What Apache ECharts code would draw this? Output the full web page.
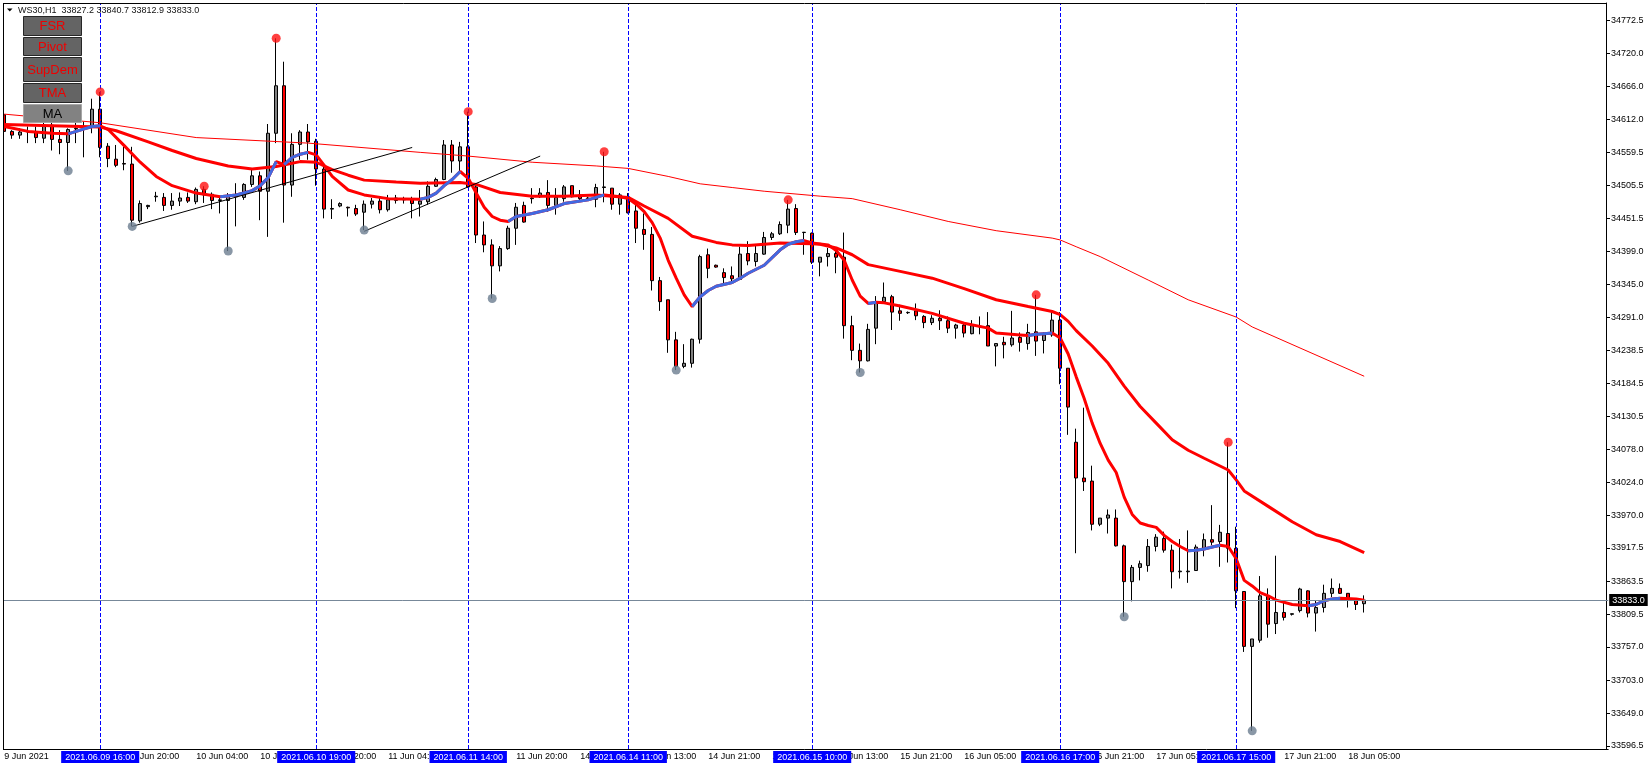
<!DOCTYPE html>
<html><head><meta charset="utf-8">
<script src="https://cdn.jsdelivr.net/npm/echarts@6/dist/echarts.min.js"></script>
<style>html,body{margin:0;padding:0;background:#fff}#c{width:1652px;height:770px}</style>
</head><body><div id="c"></div>
<script>
const titleText = 'WS30,H1  33827.2 33840.7 33812.9 33833.0';
const buttons = ['FSR','Pivot','SupDem','TMA','MA'];
const tickLabels = ['9 Jun 2021','9 Jun 12:00','9 Jun 20:00','10 Jun 04:00','10 Jun 12:00','10 Jun 20:00','11 Jun 04:00','11 Jun 12:00','11 Jun 20:00','14 Jun 05:00','14 Jun 13:00','14 Jun 21:00','15 Jun 05:00','15 Jun 13:00','15 Jun 21:00','16 Jun 05:00','16 Jun 13:00','16 Jun 21:00','17 Jun 05:00','17 Jun 13:00','17 Jun 21:00','18 Jun 05:00'];
const barsPerTick = 8;
const yTickValues = [34772.5,34720.0,34666.0,34612.0,34559.5,34505.5,34451.5,34399.0,34345.0,34291.0,34238.5,34184.5,34130.5,34078.0,34024.0,33970.0,33917.5,33863.5,33809.5,33757.0,33703.0,33649.0,33596.5];

const opens = [
34620,34593,34587,34592,34592,34582,34603,34580,34575,34597,
34598,34601,34629,34569,34548,34541,34540,34448,34471,34487,
34486,34473,34480,34486,34479,34499,34491,34481,34481,34487,
34486,34507,34521,34496,34590,34667,34506,34572,34592,34577,
34532,34467,34472,34470,34468,34462,34475,34480,34466,34481,
34482,34483,34475,34479,34504,34515,34571,34545,34568,34503,
34425,34409,34375,34403,34436,34473,34484,34487,34494,34473,
34484,34505,34490,34484,34483,34502,34501,34475,34487,34464,
34434,34426,34351,34320,34255,34212,34217,34256,34393,34376,
34364,34359,34353,34395,34382,34394,34421,34427,34441,34468,
34429,34428,34381,34390,34395,34389,34278,34238,34221,34274,
34317,34325,34302,34299,34302,34293,34283,34290,34286,34274,
34279,34265,34276,34278,34245,34251,34247,34259,34249,34268,
34254,34263,34287,34209,34089,34031,34026,33956,33966,33966,
33921,33863,33886,33889,33920,33933,33914,33879,33879,33881,
33916,33931,33928,33941,33917,33847,33758,33768,33840,33795,
33813,33810,33816,33848,33812,33821,33844,33852,33844,33834,
33827.2];
const closes = [
34593,34587,34592,34593,34583,34603,34580,34575,34596,34598,
34600,34629,34567,34549,34538,34540,34449,34476,34473,34488,
34473,34480,34485,34480,34499,34490,34481,34482,34489,34489,
34507,34521,34496,34590,34667,34506,34572,34592,34576,34532,
34467,34468,34476,34469,34459,34475,34480,34466,34482,34485,
34484,34476,34480,34504,34515,34571,34545,34568,34503,34425,
34409,34375,34403,34436,34470,34446,34485,34493,34473,34486,
34503,34487,34484,34485,34502,34503,34475,34490,34461,34436,
34426,34351,34317,34255,34212,34217,34256,34390,34371,34373,
34356,34354,34394,34383,34395,34421,34427,34442,34467,34429,
34429.5,34381,34389,34395,34389,34278,34238,34221,34272,34317,
34324,34300,34298,34299.5,34294,34283,34290,34286,34274,34279,
34266,34278,34277,34245,34249,34247,34258,34251,34267,34253,
34263,34287,34209,34146,34031,34025,33956,33966,33971,33921,
33863,33886,33892,33920,33935,33914,33879,33880,33880,33919,
33931,33927,33943,33917,33848,33758,33770,33840,33794,33813,
33805,33811,33851,33812,33821,33844,33852,33844,33833,33826,
33833.0];
const lows = [
34586,34581,34581,34574,34574,34574,34562,34556,34529,34574,
34551,34590,34551,34535,34535,34530,34439,34445,34467,34479,
34464,34466,34472,34477,34475,34477,34467,34460,34399,34439,
34482,34503,34449,34422,34574,34445,34487,34547,34547,34505,
34452,34451,34470,34455,34456,34433,34468,34460,34463,34476,
34476,34452,34455,34474,34503,34514,34526,34528,34502,34412,
34397,34322,34366,34401,34409,34445,34476,34485,34463,34458,
34479,34486,34479,34481,34470,34478,34466,34458,34460,34412,
34401,34335,34302,34234,34206,34209,34210,34249,34355,34372,
34347,34347,34352,34376,34374,34393,34417,34425,34428,34425,
34393,34378,34358,34374,34363,34257,34222,34202,34220,34248,
34314,34271,34286,34297,34287,34274,34279,34271,34266,34257,
34259,34264,34264,34245,34212,34225,34244,34236,34239,34229,
34233,34260,34183,34101,33909,34010,33946,33953,33941,33920,
33806,33831,33865,33879,33912,33910,33852,33868,33861,33881,
33904,33922,33887,33894,33820,33749,33621,33764,33772,33778,
33800,33808,33813,33805,33782,33813,33838,33843,33821,33817,
33812.9];
const highs = [
34625,34595,34598,34601,34601,34618,34609,34595,34598,34617,
34609,34646,34657,34574,34571,34568,34568,34481,34474,34495,
34493,34493,34494,34494,34502,34504,34494,34487,34493,34509,
34509,34533,34528,34605,34744,34706,34590,34595,34605,34581,
34536,34483,34478,34471,34474,34481,34485,34487,34490,34490,
34487,34487,34498,34512,34518,34579,34579,34576,34625,34509,
34447,34418,34407,34440,34477,34479,34501,34501,34514,34501,
34506,34505,34498,34487,34508,34560,34501,34493,34493,34479,
34460,34438,34357,34320,34268,34248,34257,34393,34403,34377,
34371,34374,34406,34415,34409,34430,34430,34447,34482,34475,
34430,34429,34389,34404,34403,34429,34294,34249,34281,34326,
34348,34328,34312,34301,34314,34295,34295,34303,34293,34281,
34281,34287,34293,34300,34249,34260,34302,34267,34281,34328,
34267,34300,34300,34209,34111,34145,34051,33966,33980,33980,
33923,33890,33897,33932,33940,33944,33923,33932,33946,33923,
33941,33987,33955,34089,33952,33847,33770,33872,33852,33905,
33833,33811,33853,33849,33833,33858,33868,33860,33844,33834,
33840.7];

// moving averages: [bar index, price]
const slowMA = [[0,34621],[12,34607],[24,34583],[38,34574],[52,34559],[58,34553],[66,34543],[74,34537],[78,34533],[83,34520],[87,34508],[91,34502],[95,34496],[102,34488],[106,34484],[112,34466],[118,34447],[124,34432],[131,34420],[132,34417],[134,34406],[137,34390],[143,34352],[148,34320],[154,34292],[156,34276],[170,34196]];
const midMA = [[0,34604],[6,34602],[12,34600],[14,34594],[18,34576],[21,34562],[24,34549],[28,34537],[31,34532],[34,34536],[37,34544],[39,34543],[41,34531],[43,34522],[45,34514],[49,34511],[52,34509],[57,34510],[59,34507],[62,34494],[66,34488],[70,34488],[74,34490],[78,34486],[80,34472],[83,34452],[86,34423],[89,34413],[91,34409],[93,34408],[97,34412],[101,34411],[102,34410],[104,34404],[106,34393],[108,34377],[112,34366],[116,34355],[120,34338],[124,34320],[128,34309],[131,34301],[132,34296],[133,34285],[134,34270],[136,34245],[138,34217],[140,34180],[142,34147],[144,34120],[146,34093],[148,34076],[150,34063],[153,34044],[154,34028],[155,34010],[158,33985],[161,33960],[164,33939],[167,33928],[170,33910]];
const fastMA = [[0,34601],[3,34593],[6,34590],[8,34589],[10,34597],[11,34601],[12,34602],[13,34596],[15,34570],[17,34543],[19,34520],[21,34505],[24,34493],[27,34487],[29,34490],[31,34497],[32,34505],[33,34518],[34,34544],[35,34539],[36,34551],[37,34556],[38,34559],[39,34555],[40,34538],[41,34520],[43,34498],[45,34490],[48,34484],[52,34483],[53,34486],[54,34493],[55,34505],[56,34515],[57,34528],[58,34517],[59,34493],[60,34470],[61,34455],[62,34449],[63,34447],[64,34455],[66,34460],[68,34466],[70,34476],[73,34482],[74,34486],[75,34490],[77,34487],[78,34484],[79,34475],[80,34463],[81,34445],[82,34420],[83,34384],[84,34355],[85,34328],[86,34309],[87,34325],[88,34335],[89,34342],[91,34348],[92,34355],[93,34363],[95,34376],[97,34401],[98,34410],[99,34414],[100,34416],[101,34412],[103,34409],[104,34400],[105,34384],[106,34352],[107,34326],[108,34314],[109,34316],[110,34315],[112,34310],[116,34298],[120,34282],[123,34274],[124,34266],[127,34263],[128,34262],[129,34264],[130,34265],[131,34266],[132,34258],[133,34232],[134,34195],[135,34160],[136,34120],[137,34087],[138,34060],[139,34040],[140,34000],[141,33972],[142,33958],[143,33954],[144,33951],[145,33938],[146,33928],[147,33920],[148,33913],[149,33914],[150,33916],[151,33919],[152,33922],[153,33920],[154,33900],[155,33865],[156,33856],[157,33845],[158,33840],[159,33833],[161,33826],[163,33824],[164,33826],[165,33832],[166,33835],[167,33836],[169,33835],[170,33833]];

const fractalHighIdx = [12,25,34,58,75,98,129,153];
const fractalLowIdx = [8,16,28,45,61,84,107,140,156];
const trendLine1 = [[16,34439],[51,34567]];
const trendLine2 = [[45,34431],[67,34553]];
const vLineIdx = [12,39,58,78,101,132,154];
const vLineLabels = ['2021.06.09 16:00','2021.06.10 19:00','2021.06.11 14:00','2021.06.14 11:00','2021.06.15 10:00','2021.06.16 17:00','2021.06.17 15:00'];
const bidPrice = 33833.0;

const FONT = '"Liberation Sans", Arial, sans-serif';
const slots = 201, slotPx = 8, gridLeft = 0.2, gridTop = 3, gridBottomY = 749, axisX = 1606;
const categories = [];
for (let i = 0; i < slots; i++) {
  const t = (i % barsPerTick === 0) ? tickLabels[i / barsPerTick] : undefined;
  categories.push(t || '');
}
const candleData = opens.map((o, i) => [o, closes[i], lows[i], highs[i]]);

// blue runs of rising fast MA
const blueRuns = [];
let run = null;
for (let k = 1; k < fastMA.length; k++) {
  if (fastMA[k][1] > fastMA[k-1][1]) { if (!run) run = [fastMA[k-1]]; run.push(fastMA[k]); }
  else if (run) { blueRuns.push(run); run = null; }
}
if (run) blueRuns.push(run);

const lineBase = { type: 'line', symbol: 'none', silent: true, animation: false, z: 3 };
const series = [
  { type: 'candlestick', data: candleData, barWidth: 4, z: 2, silent: true, animation: false,
    itemStyle: { color: '#808080', color0: '#ff0000', borderColor: '#000', borderColor0: '#000', borderColorDoji: '#000', borderWidth: 1 } },
  Object.assign({}, lineBase, { data: slowMA, lineStyle: { color: '#ff0000', width: 1 } }),
  Object.assign({}, lineBase, { data: midMA, lineStyle: { color: '#ff0000', width: 3 } }),
  Object.assign({}, lineBase, { data: fastMA, lineStyle: { color: '#ff0000', width: 3 } }),
];
blueRuns.forEach(r => series.push(Object.assign({}, lineBase, { data: r, z: 4, lineStyle: { color: '#4169e1', width: 3 } })));
[trendLine1, trendLine2].forEach(t => series.push(Object.assign({}, lineBase, { data: t, z: 4, lineStyle: { color: '#000', width: 1 } })));
series.push({ type: 'scatter', data: fractalHighIdx.map(i => [i, highs[i]]), symbolSize: 9, z: 6, silent: true, animation: false, itemStyle: { color: '#ff1010' } });
series.push({ type: 'scatter', data: fractalLowIdx.map(i => [i, lows[i]]), symbolSize: 9, z: 6, silent: true, animation: false, itemStyle: { color: '#6c7d90' } });
const vLines = vLineIdx.map((idx, k) => ({
  xAxis: idx,
  lineStyle: { color: '#0000ff', type: [4, 2], width: 1 },
  label: { show: true, position: 'start', distance: 2, formatter: vLineLabels[k], color: '#fff', backgroundColor: '#0000ff', padding: [2, 4, 1, 4], fontSize: 9, fontFamily: FONT }
}));
vLines.push({
  yAxis: bidPrice,
  lineStyle: { color: '#778899', type: 'solid', width: 1 },
  label: { show: true, position: 'end', distance: 1, formatter: bidPrice.toFixed(1), color: '#fff', backgroundColor: '#000', padding: [2, 3, 1, 3], fontSize: 9, fontFamily: FONT }
});
series.push({ type: 'line', data: [], clip: false, z: 5, silent: true, animation: false,
  markLine: { silent: true, animation: false, symbol: ['none', 'none'], data: vLines } });

const showTick = (idx, val) => val !== '';
const graphics = [
  { type: 'rect', shape: { x: 0, y: 0, width: 3, height: 752 }, style: { fill: '#fff' }, z: 50 },
  { type: 'line', shape: { x1: 3.5, y1: 3, x2: 3.5, y2: 749 }, style: { stroke: '#000', lineWidth: 1 }, z: 51 },
  { type: 'line', shape: { x1: 3, y1: 3.5, x2: axisX, y2: 3.5 }, style: { stroke: '#000', lineWidth: 1 }, z: 51 },
  { type: 'polygon', shape: { points: [[7, 8.5], [12.5, 8.5], [9.75, 11.5]] }, style: { fill: '#000' }, z: 60 },
  { type: 'text', x: 18, y: 10.5, style: { text: titleText, font: '9px ' + FONT, fill: '#111', verticalAlign: 'middle' }, z: 60 }
];
const btnY = [16, 37, 57, 83, 104], btnH = [19, 18, 24, 19, 18];
buttons.forEach((b, k) => {
  const isMA = b === 'MA';
  graphics.push({ type: 'rect', shape: { x: 23.5, y: btnY[k] + 0.5, width: 58, height: btnH[k] }, style: { fill: isMA ? '#828282' : '#646464', stroke: isMA ? '#a6a6a6' : '#262626', lineWidth: 1 }, z: 60 });
  graphics.push({ type: 'text', x: 52.5, y: btnY[k] + btnH[k] / 2 + 1, style: { text: b, font: '13px ' + FONT, fill: isMA ? '#000' : '#ee0000', align: 'center', verticalAlign: 'middle' }, z: 61 });
});

const option = {
  animation: false,
  backgroundColor: '#fff',
  grid: { left: gridLeft, top: gridTop, width: slots * slotPx, height: gridBottomY - gridTop },
  xAxis: {
    type: 'category', data: categories, boundaryGap: true,
    axisLine: { lineStyle: { color: '#000', width: 1 } },
    axisTick: { alignWithLabel: true, interval: showTick, length: 4, lineStyle: { color: '#000' } },
    axisLabel: { interval: showTick, align: 'left', margin: 3, fontSize: 9, fontFamily: FONT, color: '#000' },
    splitLine: { show: false }
  },
  yAxis: {
    type: 'value', position: 'right', min: 33591.6, max: 34801.2, scale: true,
    offset: axisX - (gridLeft + slots * slotPx),
    axisLine: { show: true, lineStyle: { color: '#000', width: 1 } },
    axisTick: { show: true, length: 4, customValues: yTickValues, lineStyle: { color: '#000' } },
    axisLabel: { customValues: yTickValues, formatter: v => v.toFixed(1), margin: 5, fontSize: 9, fontFamily: FONT, color: '#000' },
    splitLine: { show: false }
  },
  graphic: graphics,
  series: series
};
const chart = echarts.init(document.getElementById('c'));
chart.setOption(option);
</script></body></html>
